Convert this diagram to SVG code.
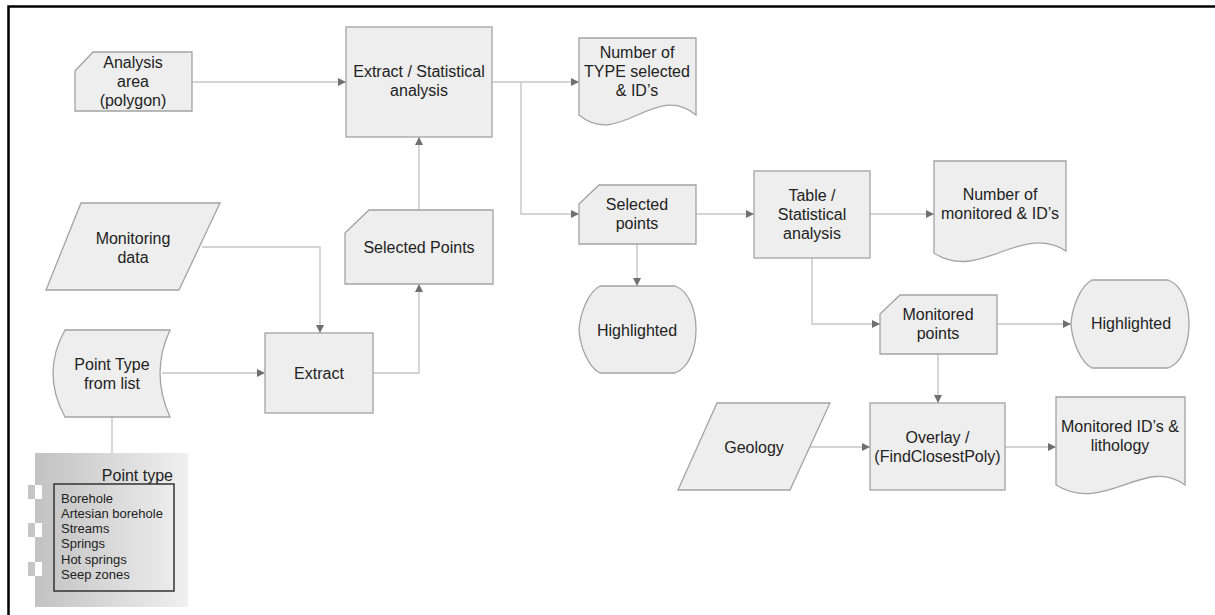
<svg xmlns="http://www.w3.org/2000/svg" width="1215" height="615" viewBox="0 0 1215 615">
<defs>
<style>
.n{fill:#eeeeee;stroke:#a3a3a3;stroke-width:1.3}
.t{font-family:"Liberation Sans",Arial,sans-serif;font-size:16px;fill:#222;text-anchor:middle}
.c{fill:none;stroke:#c6c6c6;stroke-width:1.4}
.li{font-family:"Liberation Sans",Arial,sans-serif;font-size:13px;fill:#222}
</style>
<marker id="ah" viewBox="0 0 10 10" refX="10" refY="5" markerWidth="9" markerHeight="8" markerUnits="userSpaceOnUse" orient="auto">
<path d="M0,0 L10,5 L0,10 Z" fill="#6f6f6f"/>
</marker>
<linearGradient id="lg" x1="0" y1="0" x2="1" y2="0">
<stop offset="0" stop-color="#c2c2c2"/>
<stop offset="1" stop-color="#f0f0f0"/>
</linearGradient>
</defs>
<rect width="1215" height="615" fill="#ffffff"/>
<path d="M8.5,615 V6.5 H1215" fill="none" stroke="#000" stroke-width="2.5"/>

<g id="connectors">
<path class="c" d="M192,82 H346" marker-end="url(#ah)"/>
<path class="c" d="M492,82 H579" marker-end="url(#ah)"/>
<path class="c" d="M521,82 V214 H579" marker-end="url(#ah)"/>
<path class="c" d="M696,214 H754" marker-end="url(#ah)"/>
<path class="c" d="M870,214 H934" marker-end="url(#ah)"/>
<path class="c" d="M637,244 V286" marker-end="url(#ah)"/>
<path class="c" d="M812,258 V324 H880" marker-end="url(#ah)"/>
<path class="c" d="M997,324 H1071" marker-end="url(#ah)"/>
<path class="c" d="M938,354 V403" marker-end="url(#ah)"/>
<path class="c" d="M810,447 H870" marker-end="url(#ah)"/>
<path class="c" d="M1005,447 H1056" marker-end="url(#ah)"/>
<path class="c" d="M202,247 H320 V333" marker-end="url(#ah)"/>
<path class="c" d="M162,373 H265" marker-end="url(#ah)"/>
<path class="c" d="M373,373 H419 V284" marker-end="url(#ah)"/>
<path class="c" d="M419,210 V137" marker-end="url(#ah)"/>
<path class="c" d="M112,417 V453"/>
</g>

<g id="analysis-area">
<path class="n" d="M75,71 L93,52 H192 V111 H75 Z"/>
<text class="t" x="133" y="68">Analysis</text>
<text class="t" x="133" y="87">area</text>
<text class="t" x="133" y="106">(polygon)</text>
</g>

<g id="extract-stat">
<rect class="n" x="346" y="27" width="146" height="110"/>
<text class="t" x="419" y="77">Extract / Statistical</text>
<text class="t" x="419" y="96">analysis</text>
</g>

<g id="number-type">
<path class="n" d="M579,38 H696 V115 C655,81 620,149 579,115 Z"/>
<text class="t" x="637" y="58">Number of</text>
<text class="t" x="637" y="77">TYPE selected</text>
<text class="t" x="637" y="96">&amp; ID’s</text>
</g>

<g id="monitoring-data">
<path class="n" d="M81,203 H220 L179,290 H46 Z"/>
<text class="t" x="133" y="243.5">Monitoring</text>
<text class="t" x="133" y="262.5">data</text>
</g>

<g id="selected-points-1">
<path class="n" d="M345,233 L369,210 H493 V284 H345 Z"/>
<text class="t" x="419" y="252.5">Selected Points</text>
</g>

<g id="point-type-list">
<path class="n" d="M65,330 H170 Q150,373 170,417 H65 Q41,373 65,330 Z"/>
<text class="t" x="112" y="369.5">Point Type</text>
<text class="t" x="112" y="388.5">from list</text>
</g>

<g id="extract">
<rect class="n" x="265" y="333" width="108" height="80"/>
<text class="t" x="319" y="378.5">Extract</text>
</g>

<g id="selected-points-2">
<path class="n" d="M579,204 L599,185 H696 V244 H579 Z"/>
<text class="t" x="637" y="209.5">Selected</text>
<text class="t" x="637" y="228.5">points</text>
</g>

<g id="table-stat">
<rect class="n" x="754" y="171" width="116" height="87"/>
<text class="t" x="812" y="200.5">Table /</text>
<text class="t" x="812" y="219.5">Statistical</text>
<text class="t" x="812" y="238.5">analysis</text>
</g>

<g id="number-monitored">
<path class="n" d="M934,161 H1066 V251 C1020,222 980,283 934,253 Z"/>
<text class="t" x="1000" y="199.5">Number of</text>
<text class="t" x="1000" y="218.5">monitored &amp; ID’s</text>
</g>

<g id="highlighted-1">
<path class="n" d="M579,330 C580,314 588,292 600,286 H675 C703,296 703,363 675,373 H600 C588,367 580,346 579,330 Z"/>
<text class="t" x="637" y="335.5">Highlighted</text>
</g>

<g id="monitored-points">
<path class="n" d="M880,314 L900,295 H997 V354 H880 Z"/>
<text class="t" x="938" y="319.5">Monitored</text>
<text class="t" x="938" y="338.5">points</text>
</g>

<g id="highlighted-2">
<path class="n" d="M1071,324 C1072,308 1080,286 1092,280 H1168 C1196,290 1196,358 1168,368 H1092 C1080,362 1072,340 1071,324 Z"/>
<text class="t" x="1131" y="328.5">Highlighted</text>
</g>

<g id="geology">
<path class="n" d="M717,403 H830 L790,490 H678 Z"/>
<text class="t" x="754" y="452.5">Geology</text>
</g>

<g id="overlay">
<rect class="n" x="870" y="403" width="135" height="87"/>
<text class="t" x="937.5" y="442.5">Overlay /</text>
<text class="t" x="937.5" y="461.5">(FindClosestPoly)</text>
</g>

<g id="monitored-lithology">
<path class="n" d="M1056,397 H1185 V485 C1145,455 1105,515 1056,485 Z"/>
<text class="t" x="1120" y="431.5">Monitored ID’s &amp;</text>
<text class="t" x="1120" y="450.5">lithology</text>
</g>

<g id="point-type-legend">
<rect x="35" y="453" width="153" height="154" fill="url(#lg)"/>
<rect x="28" y="485" width="7" height="14" fill="#c6c6c6"/>
<rect x="35" y="485" width="7" height="14" fill="#ffffff"/>
<rect x="28" y="523" width="7" height="14" fill="#c6c6c6"/>
<rect x="35" y="523" width="7" height="14" fill="#ffffff"/>
<rect x="28" y="562" width="7" height="14" fill="#c6c6c6"/>
<rect x="35" y="562" width="7" height="14" fill="#ffffff"/>
<text x="173" y="480.5" style="font-family:'Liberation Sans',Arial,sans-serif;font-size:16px;fill:#222;text-anchor:end">Point type</text>
<rect x="54" y="484" width="120" height="107" fill="none" stroke="#333" stroke-width="1.5"/>
<text class="li" x="61" y="502.5">Borehole</text>
<text class="li" x="61" y="517.8">Artesian borehole</text>
<text class="li" x="61" y="533">Streams</text>
<text class="li" x="61" y="548.3">Springs</text>
<text class="li" x="61" y="563.6">Hot springs</text>
<text class="li" x="61" y="579">Seep zones</text>
</g>
</svg>
